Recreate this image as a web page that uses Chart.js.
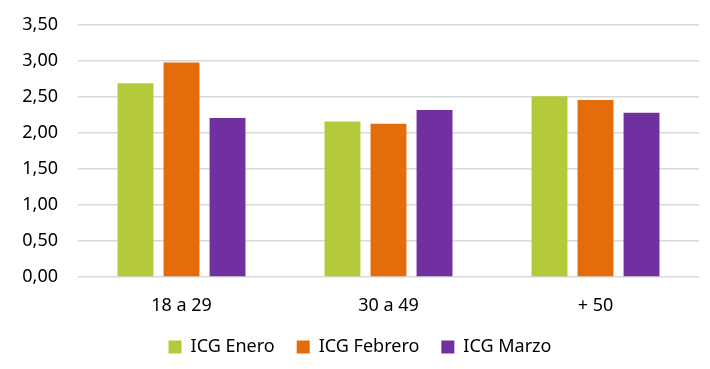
<!DOCTYPE html>
<html>
<head>
<meta charset="utf-8">
<script src="https://cdn.jsdelivr.net/npm/chart.js@4"></script>
<style>
  html, body { margin: 0; padding: 0; background: #fff; }
  #wrap { width: 710px; height: 369px; }
</style>
</head>
<body>
<div id="wrap"><canvas id="chart" width="710" height="369"></canvas></div>
<script>
const categories = ["18 a 29", "30 a 49", "+ 50"];
const enero = [2.69, 2.16, 2.51];
const febrero = [2.98, 2.13, 2.46];
const marzo = [2.21, 2.32, 2.28];
const yTicks = [0, 0.5, 1, 1.5, 2, 2.5, 3, 3.5];

const font = "'Noto Sans', sans-serif";

new Chart(document.getElementById("chart"), {
  type: "bar",
  data: {
    labels: categories,
    datasets: [
      { label: "ICG Enero", data: enero, backgroundColor: "#B5CA3A" },
      { label: "ICG Febrero", data: febrero, backgroundColor: "#E46C0A" },
      { label: "ICG Marzo", data: marzo, backgroundColor: "#7030A0" }
    ]
  },
  options: {
    responsive: false,
    animation: false,
    categoryPercentage: 0.667,
    barPercentage: 0.78,
    layout: { padding: { top: 25, right: 11, left: 21, bottom: 3 } },
    scales: {
      x: {
        grid: { display: false, drawTicks: false },
        border: { display: false },
        ticks: { color: "#000", font: { family: font, size: 18 }, padding: 18 },
        // keep the labels where they are but pull the legend up closer
        afterFit: (scale) => { scale.height = 39; }
      },
      y: {
        min: 0,
        max: 3.5,
        afterBuildTicks: (axis) => { axis.ticks = yTicks.map((v) => ({ value: v })); },
        afterFit: (scale) => {
          scale.width = 57;
          scale.paddingTop = 0;
          scale.paddingBottom = 0;
        },
        grid: { color: "#d9d9d9", lineWidth: 1.5, drawTicks: false },
        border: { display: false },
        ticks: {
          color: "#000",
          font: { family: font, size: 18 },
          padding: 20,
          callback: (v) => v.toFixed(2).replace(".", ",")
        }
      }
    },
    plugins: {
      tooltip: { enabled: false },
      legend: {
        position: "bottom",
        labels: {
          color: "#000",
          font: { family: font, size: 18 },
          boxWidth: 13,
          boxHeight: 13,
          padding: 22
        }
      }
    }
  }
});
</script>
</body>
</html>
